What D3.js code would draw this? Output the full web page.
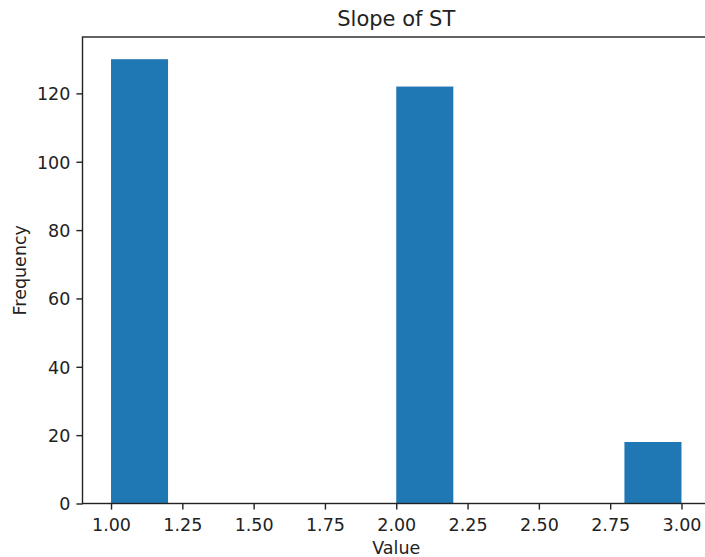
<!DOCTYPE html>
<html>
<head>
<meta charset="utf-8">
<script src="https://cdn.jsdelivr.net/npm/d3@7"></script>
<style>
  body { margin: 0; background: #fff; }
  text { font-family: "DejaVu Sans", sans-serif; fill: #222; }
</style>
</head>
<body>
<script>
// histogram data
let binEdges = [1.0, 1.2, 1.4, 1.6, 1.8, 2.0, 2.2, 2.4, 2.6, 2.8, 3.0];
let counts = [130, 0, 0, 0, 0, 122, 0, 0, 0, 18];
let xTicks = [1.0, 1.25, 1.5, 1.75, 2.0, 2.25, 2.5, 2.75, 3.0];
let yTicks = [0, 20, 40, 60, 80, 100, 120];

let w = 705;
let h = 557;
let axLeft = 82.5, axRight = 710, axTop = 37, axBottom = 503.5;
let fontSize = 17.5;

let bins = counts.map((c, i) => ({ x0: binEdges[i], x1: binEdges[i + 1], count: c }));

let svg = d3.select('body').append('svg')
  .attr('width', w)
  .attr('height', h);

// matplotlib style 5% margins
let xScale = d3.scaleLinear()
  .domain([0.9, 3.1])
  .range([axLeft, axRight]);

let yScale = d3.scaleLinear()
  .domain([0, d3.max(counts) * 1.05])
  .range([axBottom, axTop]);

svg.selectAll('.bars')
  .data(bins.filter(d => d.count > 0))
  .enter()
  .append('rect')
  .classed('bars', true)
  .attr('x', d => xScale(d.x0))
  .attr('width', d => xScale(d.x1) - xScale(d.x0))
  .attr('y', d => yScale(d.count))
  .attr('height', d => yScale(0) - yScale(d.count))
  .style('fill', '#1f77b4');

let xAxis = d3.axisBottom(xScale)
  .tickValues(xTicks)
  .tickFormat(d3.format('.2f'))
  .tickSize(6.1);

let xAxisGroup = svg.append('g')
  .attr('transform', `translate(0, ${axBottom})`)
  .call(xAxis);

let yAxis = d3.axisLeft(yScale)
  .tickValues(yTicks)
  .tickSize(6.1)
  .tickPadding(6.1);

let yAxisGroup = svg.append('g')
  .attr('transform', `translate(${axLeft}, 0)`)
  .call(yAxis);

[xAxisGroup, yAxisGroup].forEach(g => {
  g.select('.domain').remove();
  g.selectAll('.tick line').attr('stroke', '#222').attr('stroke-width', 1.4);
  g.selectAll('.tick text')
    .style('font-family', '"DejaVu Sans", sans-serif')
    .style('font-size', fontSize + 'px')
    .attr('fill', '#222');
});
xAxisGroup.selectAll('.tick text').attr('y', 27.2).attr('dy', 0);
yAxisGroup.selectAll('.tick text').attr('dy', '0.36em');

// spines
svg.append('rect')
  .attr('x', axLeft)
  .attr('y', axTop)
  .attr('width', axRight - axLeft)
  .attr('height', axBottom - axTop)
  .style('fill', 'none')
  .style('stroke', '#222')
  .style('stroke-width', 1.4);

svg.append('text')
  .attr('x', (axLeft + axRight) / 2)
  .attr('y', 26)
  .attr('text-anchor', 'middle')
  .style('font-size', '21px')
  .text('Slope of ST');

svg.append('text')
  .attr('x', (axLeft + axRight) / 2)
  .attr('y', 553.5)
  .attr('text-anchor', 'middle')
  .style('font-size', fontSize + 'px')
  .text('Value');

svg.append('text')
  .attr('transform', `translate(26, ${(axTop + axBottom) / 2}) rotate(-90)`)
  .attr('text-anchor', 'middle')
  .style('font-size', fontSize + 'px')
  .text('Frequency');
</script>
</body>
</html>
